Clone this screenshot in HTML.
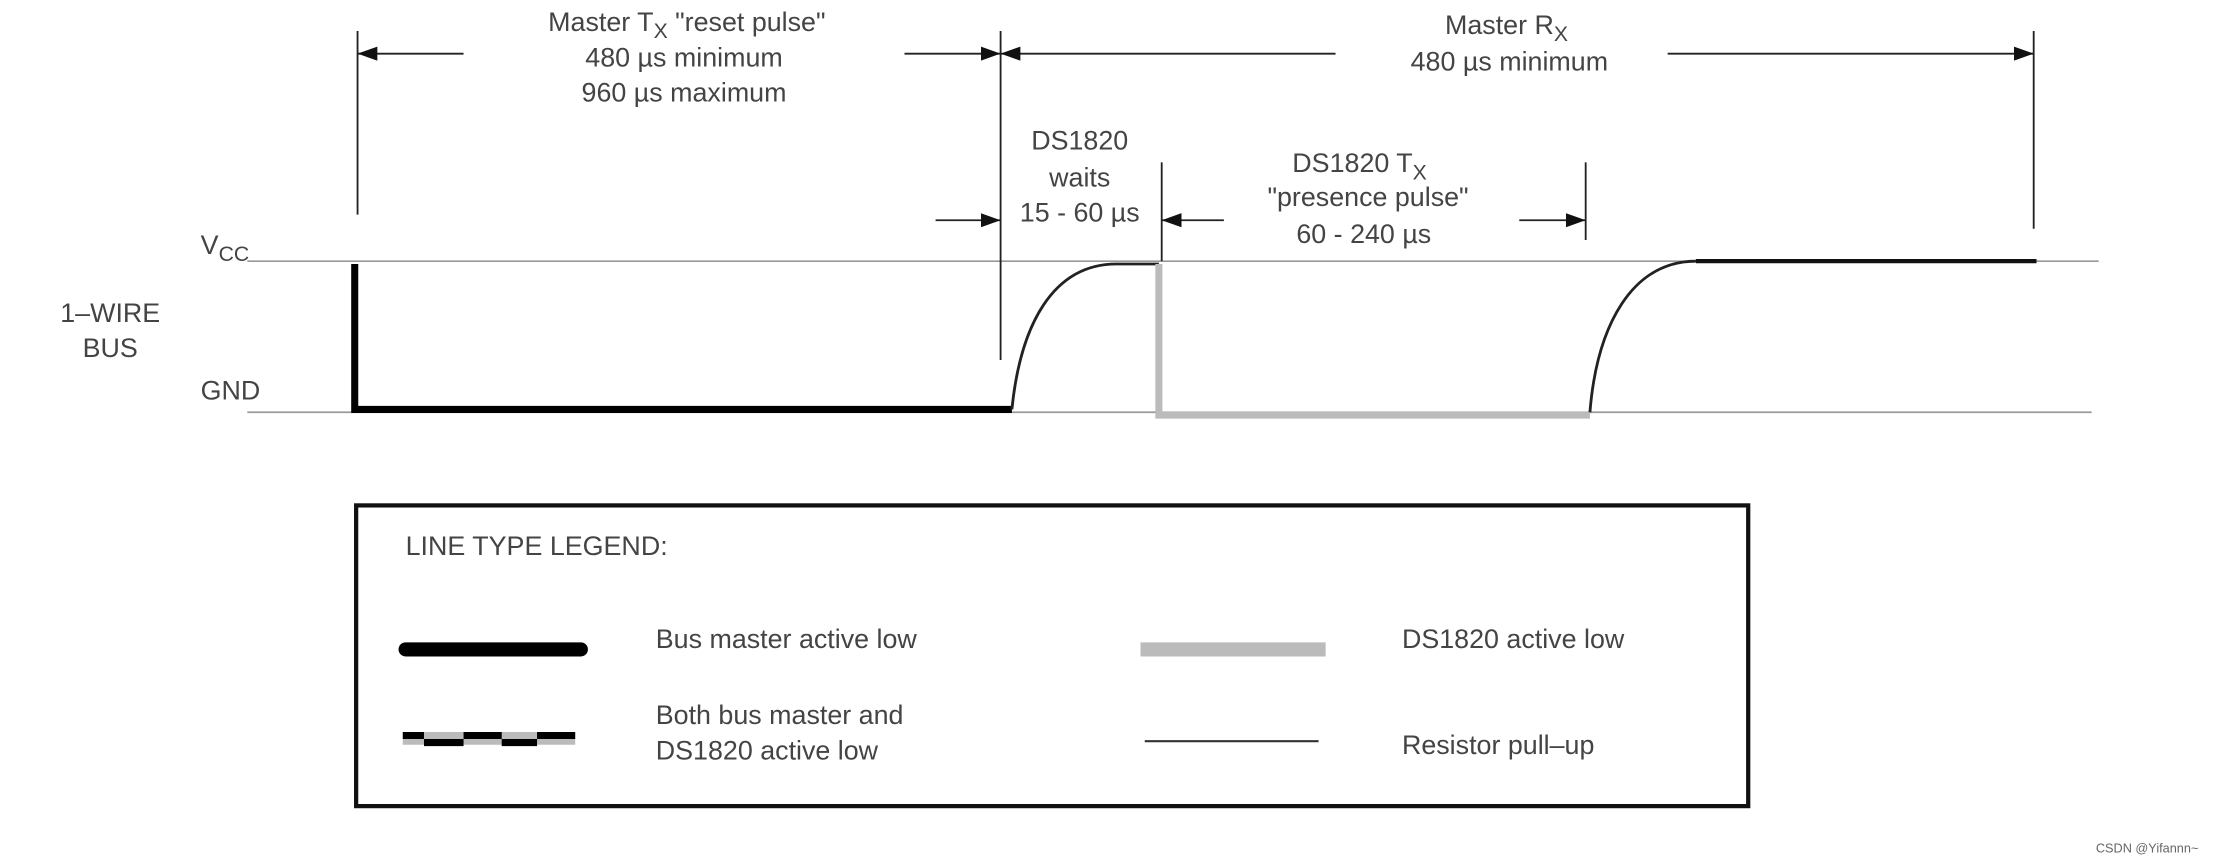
<!DOCTYPE html>
<html><head><meta charset="utf-8"><style>
html,body{margin:0;padding:0;background:#fff;}
svg{display:block;}
text{font-family:"Liberation Sans",sans-serif;fill:#444;font-size:19px;}
</style></head><body>
<svg width="2216" height="864" viewBox="0 0 1568 612" preserveAspectRatio="none" xmlns="http://www.w3.org/2000/svg">
<defs>
<marker id="a" markerWidth="14" markerHeight="10" refX="14" refY="5" orient="auto" markerUnits="userSpaceOnUse">
<path d="M0,0 L14,5 L0,10 Z" fill="#111"/></marker>
</defs>
<rect width="1568" height="612" fill="#fff"/>
<!-- rails -->
<line x1="175" y1="185" x2="1485" y2="185" stroke="#999" stroke-width="1.2"/>
<line x1="175" y1="292" x2="1480" y2="292" stroke="#999" stroke-width="1.2"/>
<!-- master low -->
<path d="M251,187 L251,290 L716,290" fill="none" stroke="#000" stroke-width="5"/>
<!-- pullup 1 -->
<path d="M716,290 C722,230 745,187 790,187 L820,187" fill="none" stroke="#222" stroke-width="2"/>
<!-- DS low -->
<path d="M820,187 L820,294 L1125,294" fill="none" stroke="#bbb" stroke-width="5"/>
<!-- pullup 2 -->
<path d="M1125,292 C1130,230 1155,185 1200,185" fill="none" stroke="#222" stroke-width="2"/>
<line x1="1200" y1="185" x2="1441" y2="185" stroke="#111" stroke-width="3"/>
<!-- ticks -->
<g stroke="#222" stroke-width="1.3">
<line x1="253" y1="22" x2="253" y2="152"/>
<line x1="708" y1="22" x2="708" y2="255"/>
<line x1="1439" y1="22" x2="1439" y2="162"/>
<line x1="822" y1="115" x2="822" y2="185"/>
<line x1="1122" y1="115" x2="1122" y2="170"/>
<line x1="328" y1="38" x2="253" y2="38" marker-end="url(#a)"/>
<line x1="640" y1="38" x2="708" y2="38" marker-end="url(#a)"/>
<line x1="945" y1="38" x2="708" y2="38" marker-end="url(#a)"/>
<line x1="1180" y1="38" x2="1439" y2="38" marker-end="url(#a)"/>
<line x1="662" y1="156" x2="708" y2="156" marker-end="url(#a)"/>
<line x1="866" y1="156" x2="822" y2="156" marker-end="url(#a)"/>
<line x1="1075" y1="156" x2="1122" y2="156" marker-end="url(#a)"/>
</g>
<!-- labels -->
<g text-anchor="middle">
<text x="486" y="22">Master T<tspan font-size="15" dy="5">X</tspan><tspan dy="-5"> "reset pulse"</tspan></text>
<text x="484" y="47">480 µs minimum</text>
<text x="484" y="72">960 µs maximum</text>
<text x="1066" y="24">Master R<tspan font-size="15" dy="5">X</tspan></text>
<text x="1068" y="50">480 µs minimum</text>
<text x="764" y="106">DS1820</text>
<text x="764" y="132">waits</text>
<text x="764" y="157">15 - 60 µs</text>
<text x="962" y="122">DS1820 T<tspan font-size="15" dy="5">X</tspan></text>
<text x="968" y="146">"presence pulse"</text>
<text x="965" y="172">60 - 240 µs</text>
<text x="78" y="228">1–WIRE</text>
<text x="78" y="253">BUS</text>
</g>
<text x="142" y="180">V<tspan font-size="15" dy="5">CC</tspan></text>
<text x="142" y="283">GND</text>
<!-- legend -->
<rect x="252" y="358" width="985" height="213" fill="none" stroke="#111" stroke-width="3"/>
<text x="287" y="393">LINE TYPE LEGEND:</text>
<line x1="287" y1="460" x2="411" y2="460" stroke="#000" stroke-width="10" stroke-linecap="round"/>
<text x="464" y="459">Bus master active low</text>
<line x1="807" y1="460" x2="938" y2="460" stroke="#bbb" stroke-width="10"/>
<text x="992" y="459">DS1820 active low</text>
<line x1="285" y1="523" x2="407" y2="523" stroke="#bbb" stroke-width="9"/>
<g stroke="#000" stroke-width="5">
<line x1="285" y1="521" x2="300" y2="521"/><line x1="300" y1="526" x2="328" y2="526"/>
<line x1="328" y1="521" x2="355" y2="521"/><line x1="355" y1="526" x2="380" y2="526"/>
<line x1="380" y1="521" x2="407" y2="521"/>
</g>
<text x="464" y="513">Both bus master and</text>
<text x="464" y="538">DS1820 active low</text>
<line x1="810" y1="525" x2="933" y2="525" stroke="#333" stroke-width="1.5"/>
<text x="992" y="534">Resistor pull–up</text>
<text x="1483" y="604" style="font-size:9px;fill:#666">CSDN @Yifannn~</text>
</svg>
</body></html>
